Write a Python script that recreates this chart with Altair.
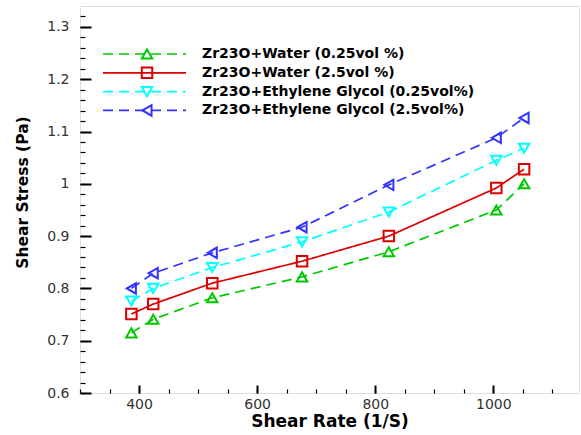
import altair as alt
import pandas as pd

# ---- data ----
shear_rate = [387, 424, 524, 676, 823, 1005, 1052]
series_names = [
    "Zr23O+Water (0.25vol %)",
    "Zr23O+Water (2.5vol %)",
    "Zr23O+Ethylene Glycol (0.25vol%)",
    "Zr23O+Ethylene Glycol (2.5vol%)",
]
water_025 = [0.715, 0.741, 0.782, 0.822, 0.870, 0.950, 1.000]
water_25 = [0.751, 0.770, 0.810, 0.852, 0.900, 0.992, 1.028]
eg_025 = [0.776, 0.800, 0.840, 0.889, 0.946, 1.045, 1.068]
eg_25 = [0.800, 0.829, 0.868, 0.917, 0.998, 1.088, 1.126]

x_major = [400, 600, 800, 1000]
x_minor = list(range(300, 1150, 50))
y_major = [0.6, 0.7, 0.8, 0.9, 1.0, 1.1, 1.2, 1.3]
y_minor = [round(0.6 + 0.02 * i, 2) for i in range(0, 37)]

colors = ["#00c800", "#dc0000", "#00ffff", "#3232ff"]
shapes = ["triangle-up", "square", "triangle-down", "triangle-left"]
dashes = [[10, 6], [1, 0], [10, 6], [10, 6]]

rows = []
for name, vals in zip(series_names, [water_025, water_25, eg_025, eg_25]):
    for x, y in zip(shear_rate, vals):
        rows.append({"series": name, "rate": x, "stress": y})
df = pd.DataFrame(rows)

leg = pd.DataFrame({
    "series": series_names,
    "row": list(range(len(series_names))),
})

W, H = 499, 387
FONT = "DejaVu Sans"

xs = alt.Scale(domain=[300, 1145], nice=False, zero=False)
ys = alt.Scale(domain=[0.6, 1.34], nice=False, zero=False)
cs = alt.Scale(domain=series_names, range=colors)
ss = alt.Scale(domain=series_names, range=shapes)
ds = alt.Scale(domain=series_names, range=dashes)

color_enc = alt.Color("series:N", scale=cs, legend=None)
shape_enc = alt.Shape("series:N", scale=ss, legend=None)
dash_enc = alt.StrokeDash("series:N", scale=ds, legend=None)

label_x_axis = alt.Axis(orient="bottom", values=x_major, format="d", ticks=False,
                        domain=False, grid=False,
                        labelFont=FONT, labelFontSize=14, labelColor="#333",
                        labelPadding=4, title="Shear Rate  (1/S)",
                        titleFont=FONT, titleFontSize=17, titleFontWeight="bold",
                        titleBaseline="middle", titleY=28, titleColor="black")
label_y_axis = alt.Axis(orient="left", values=y_major, ticks=False, domain=False, grid=False,
                        labelFont=FONT, labelFontSize=14, labelColor="#333",
                        labelPadding=11,
                        labelExpr="datum.value == 1 ? '1' : format(datum.value, '.1f')",
                        title="Shear Stress  (Pa)",
                        titleFont=FONT, titleFontSize=15.5, titleFontWeight="bold",
                        titleX=-58, titleY=186, titleAngle=270, titleAlign="center",
                        titleBaseline="middle", titleColor="black")

major_x_axis = alt.Axis(orient="bottom", values=x_major, labels=False, domain=False,
                        grid=False, ticks=True, tickSize=8, offset=-8,
                        tickColor="black", tickWidth=2, title=None)
major_y_axis = alt.Axis(orient="left", values=y_major, labels=False, domain=False,
                        grid=False, ticks=True, tickSize=11, offset=-11,
                        tickColor="black", tickWidth=2, title=None)
minor_x_axis = alt.Axis(orient="bottom", values=x_minor, labels=False, domain=False,
                        grid=False, ticks=True, tickSize=4, offset=-4,
                        tickColor="black", tickWidth=1.2, title=None)
minor_y_axis = alt.Axis(orient="left", values=y_minor, labels=False, domain=False,
                        grid=False, ticks=True, tickSize=5, offset=-5,
                        tickColor="black", tickWidth=1.2, title=None)

lines = alt.Chart(df).mark_line(strokeWidth=1.7).encode(
    x=alt.X("rate:Q", scale=xs, axis=label_x_axis),
    y=alt.Y("stress:Q", scale=ys, axis=label_y_axis),
    color=color_enc,
    strokeDash=dash_enc,
    detail="series:N",
)

points = alt.Chart(df).mark_point(filled=False, size=110, strokeWidth=2, opacity=1).encode(
    x=alt.X("rate:Q", scale=xs, axis=major_x_axis),
    y=alt.Y("stress:Q", scale=ys, axis=major_y_axis),
    color=color_enc,
    shape=shape_enc,
)

minor = alt.Chart(df).mark_point(opacity=0).encode(
    x=alt.X("rate:Q", scale=xs, axis=minor_x_axis),
    y=alt.Y("stress:Q", scale=ys, axis=minor_y_axis),
)

# ---- legend drawn inside the plot (pixel positions) ----
leg_base = alt.Chart(leg).transform_calculate(
    ly="48 + datum.row * 18.8", lx1="23", lx2="106", lxm="67", lxt="122"
)
leg_lines = leg_base.mark_rule(strokeWidth=1.7).encode(
    x=alt.X("lx1:Q", scale=None, axis=None),
    x2="lx2:Q",
    y=alt.Y("ly:Q", scale=None, axis=None),
    color=color_enc,
    strokeDash=dash_enc,
)
leg_pts = leg_base.mark_point(filled=False, size=110, strokeWidth=2, opacity=1).encode(
    x=alt.X("lxm:Q", scale=None, axis=None),
    y=alt.Y("ly:Q", scale=None, axis=None),
    color=color_enc,
    shape=shape_enc,
)
leg_text = leg_base.mark_text(align="left", baseline="middle", font=FONT,
                              fontSize=14, fontWeight="bold", color="black").encode(
    x=alt.X("lxt:Q", scale=None, axis=None),
    y=alt.Y("ly:Q", scale=None, axis=None),
    text="series:N",
)

chart = alt.layer(lines, points, minor, leg_lines, leg_pts, leg_text).resolve_axis(
    x="independent", y="independent"
).properties(
    width=W, height=H,
    autosize=alt.AutoSizeParams(type="none"),
    padding={"left": 80, "top": 6, "right": 2, "bottom": 42},
).configure_view(stroke="black", strokeWidth=2).configure(background="white")

chart.save("out.html", embed_options={"renderer": "svg", "actions": False})
